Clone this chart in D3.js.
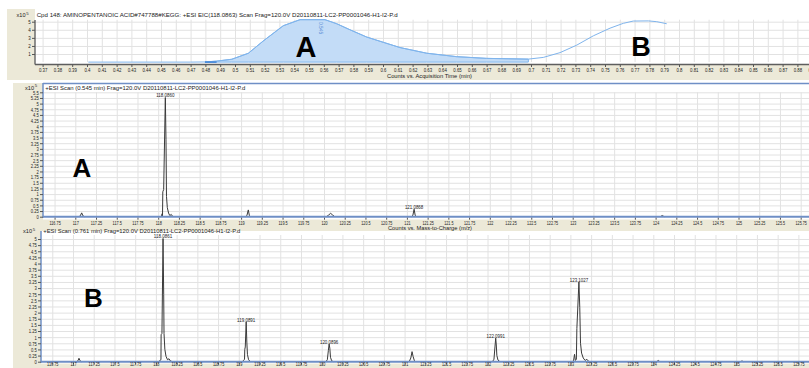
<!DOCTYPE html>
<html>
<head>
<meta charset="utf-8">
<script src="https://cdn.jsdelivr.net/npm/d3@7"></script>
<style>
  body { margin: 0; background: #fff; }
  svg { display: block; }
  text { font-family: "Liberation Sans", Arial, sans-serif; }
</style>
</head>
<body>
<svg id="chart" width="809" height="368"></svg>
<script>
// ---------- Extracted-ion chromatogram, +ESI EIC(118.0863) ----------
const timeTickLabels = ["0.37","0.38","0.39","0.4","0.41","0.42","0.43","0.44","0.45","0.46","0.47","0.48","0.49","0.5","0.51","0.52","0.53","0.54","0.55","0.56","0.57","0.58","0.59","0.6","0.61","0.62","0.63","0.64","0.65","0.66","0.67","0.68","0.69","0.7","0.71","0.72","0.73","0.74","0.75","0.76","0.77","0.78","0.79","0.8","0.81","0.82","0.83","0.84","0.85","0.86","0.87","0.88","0.89"];
const eicYTickLabels = ["1","2","3","4","5"];
const eicTime   = [0.4009, 0.4700, 0.4797, 0.4876, 0.4978, 0.5090, 0.5190, 0.5326, 0.5439, 0.5608, 0.5687, 0.5777, 0.5890, 0.6002, 0.6115, 0.6295, 0.6498, 0.6700, 0.6982, 0.7083, 0.7196, 0.7309, 0.7421, 0.7534, 0.7624, 0.7691, 0.7793, 0.7850, 0.7917];
const eicCounts = [0, 0, 0.02, 0.12, 0.35, 1.09, 2.6, 4.5, 5.25, 5.25, 4.75, 4.0, 3.1, 2.45, 1.8, 1.1, 0.67, 0.46, 0.37, 0.58, 1.17, 2.1, 3.25, 4.2, 4.8, 5.08, 5.1, 5.0, 4.75];
const integrationStart = 0.4797;
const integrationEnd = 0.6982;
const apexLabel = "0.545";

// ---------- Mass spectra (counts x10^5 vs m/z) ----------
const mzTickLabels = ["116.75","117","117.25","117.5","117.75","118","118.25","118.5","118.75","119","119.25","119.5","119.75","120","120.25","120.5","120.75","121","121.25","121.5","121.75","122","122.25","122.5","122.75","123","123.25","123.5","123.75","124","124.25","124.5","124.75","125","125.25","125.5","125.75"];
const scanAYTickLabels = ["0","0.25","0.5","0.75","1","1.25","1.5","1.75","2","2.25","2.5","2.75","3","3.25","3.5","3.75","4","4.25","4.5","4.75","5","5.25","5.5"];
const scanBYTickLabels = ["0","0.25","0.5","0.75","1","1.25","1.5","1.75","2","2.25","2.5","2.75","3","3.25","3.5","3.75","4","4.25","4.5","4.75","5"];

// Scan at 0.545 min
const scanAPeaks = [
  { label: null, mz: [117.045, 117.06, 117.077, 117.092, 117.11], counts: [0, 0.04, 0.17, 0.04, 0] },
  { label: "118.0860",
    mz:     [118.03, 118.04, 118.047, 118.052, 118.0555, 118.066, 118.0860, 118.094, 118.100, 118.11, 118.125, 118.14, 118.158, 118.172, 118.19],
    counts: [0, 0.02, 0.13, 0.04, 1.1, 1.2, 5.27, 3.4, 0.9, 0.4, 0.16, 0.05, 0.1, 0.02, 0] },
  { label: null, mz: [119.055, 119.07, 119.087, 119.1, 119.115], counts: [0, 0.05, 0.30, 0.05, 0] },
  { label: null, mz: [120.03, 120.055, 120.08, 120.105, 120.13], counts: [0, 0.07, 0.15, 0.07, 0] },
  { label: "121.0868", mz: [121.055, 121.072, 121.0868, 121.1, 121.118], counts: [0, 0.06, 0.33, 0.06, 0] },
  { label: null, mz: [124.055, 124.08, 124.105], counts: [0, 0.05, 0] }
];

// Scan at 0.761 min
const scanBPeaks = [
  { label: null, mz: [117.045, 117.06, 117.072, 117.085, 117.1], counts: [0, 0.04, 0.14, 0.04, 0] },
  { label: "118.0861",
    mz:     [118.03, 118.045, 118.061, 118.063, 118.073, 118.0861, 118.094, 118.098, 118.108, 118.122, 118.14, 118.158, 118.175, 118.2],
    counts: [0, 0.04, 0.08, 1.1, 1.15, 5.02, 2.75, 1.15, 0.5, 0.22, 0.08, 0.12, 0.03, 0] },
  { label: "119.0891",
    mz:     [119.04, 119.055, 119.069, 119.072, 119.078, 119.0891, 119.097, 119.104, 119.118, 119.14],
    counts: [0, 0.04, 0.1, 0.5, 0.6, 1.62, 0.8, 0.3, 0.08, 0] },
  { label: "120.0896",
    mz:     [120.05, 120.068, 120.08, 120.0896, 120.098, 120.106, 120.12, 120.14],
    counts: [0, 0.08, 0.45, 0.72, 0.55, 0.18, 0.04, 0] },
  { label: null, mz: [121.055, 121.075, 121.09, 121.102, 121.118, 121.135], counts: [0, 0.15, 0.41, 0.22, 0.04, 0] },
  { label: "122.0991",
    mz:     [122.06, 122.078, 122.09, 122.0991, 122.106, 122.113, 122.126, 122.15],
    counts: [0, 0.1, 0.6, 0.96, 0.68, 0.25, 0.07, 0] },
  { label: "123.1027",
    mz:     [123.02, 123.038, 123.05, 123.06, 123.072, 123.078, 123.1027, 123.113, 123.122, 123.135, 123.155, 123.178, 123.198, 123.218, 123.24],
    counts: [0, 0.04, 0.3, 0.05, 0.1, 1.35, 3.25, 2.2, 0.75, 0.35, 0.15, 0.05, 0.1, 0.02, 0] },
  { label: null, mz: [124.04, 124.06, 124.08], counts: [0, 0.05, 0] },
  { label: null, mz: [125.05, 125.07, 125.09], counts: [0, 0.03, 0] }
];

const eicTitle = "Cpd 148: AMINOPENTANOIC ACID#747788#KEGG: +ESI EIC(118.0863) Scan Frag=120.0V D20110811-LC2-PP0001046-H1-I2-P.d";
const scanATitle = "+ESI Scan (0.545 min) Frag=120.0V D20110811-LC2-PP0001046-H1-I2-P.d";
const scanBTitle = "+ESI Scan (0.761 min) Frag=120.0V D20110811-LC2-PP0001046-H1-I2-P.d";
const timeAxisTitle = "Counts vs. Acquisition Time (min)";
const mzAxisTitle = "Counts vs. Mass-to-Charge (m/z)";

// ---------- drawing ----------
const W = 809, H = 368;
const BEIGE = "#ece9d8", GRID = "#e2e2e2", PANE_BLUE = "#6f8fc6", TRACE = "#3a3a3a";
const EIC_FILL = "#c3dcf7", EIC_LINE = "#7fb4ec";
const svg = d3.select("#chart");

// approximate rendered width of a tiny numeric label
function labelWidth(s, digit, dot) {
  let w = 0;
  for (const ch of s) w += (ch === "." ? dot : digit);
  return w;
}
function styleTicks(g, fs, digit, dot) {
  g.attr("font-size", null).attr("font-family", null);
  g.select(".domain").remove();
  g.selectAll(".tick line").attr("stroke", "#555");
  g.selectAll(".tick text")
    .attr("font-size", fs)
    .attr("fill", "#222")
    .each(function () {
      this.setAttribute("textLength", labelWidth(this.textContent, digit, dot));
      this.setAttribute("lengthAdjust", "spacingAndGlyphs");
    });
}
function styleGrid(g) {
  g.select(".domain").remove();
  g.selectAll("text").remove();
  g.selectAll("line").attr("stroke", GRID);
}
function smallText(x, y, s, len, anchor) {
  const t = svg.append("text").attr("x", x).attr("y", y).attr("font-size", 6)
    .attr("fill", "#222").attr("text-anchor", anchor || "start").text(s);
  if (len) t.attr("textLength", len).attr("lengthAdjust", "spacingAndGlyphs");
  return t;
}
function exponentLabel(x, y) {
  const t = svg.append("text").attr("x", x).attr("y", y).attr("font-size", 5.6).attr("fill", "#222");
  t.append("tspan").text("x10");
  t.append("tspan").attr("dy", -2.2).attr("font-size", 4.3).attr("dx", 0.8).text("5");
}
function bigLetter(x, y, s, fs) {
  svg.append("text").attr("x", x).attr("y", y).attr("text-anchor", "middle")
    .attr("font-size", fs).attr("font-weight", "bold").attr("fill", "#000").text(s);
}

// ===== Panel 1: chromatogram =====
const p1 = { left: 35, top: 9, axisY: 64.5 };
svg.append("rect").attr("x", 7).attr("y", 9).attr("width", W - 7).attr("height", 71).attr("fill", BEIGE);
svg.append("rect").attr("x", p1.left).attr("y", p1.top).attr("width", W - p1.left).attr("height", p1.axisY - p1.top).attr("fill", "#fff");

const xT = d3.scaleLinear().domain([0.37, 0.80]).range([42.6, 679]);
const yT = d3.scaleLinear().domain([0, 5]).range([62.1, 21.7]);
const timeTicks = timeTickLabels.map(Number);

svg.append("g").attr("transform", `translate(0,${yT(0)})`)
  .call(d3.axisBottom(xT).tickValues(timeTicks).tickSize(-(yT(0) - yT(5.25))).tickFormat(""))
  .call(styleGrid);
svg.append("g").attr("transform", `translate(${p1.left},0)`)
  .call(d3.axisLeft(yT).tickValues(eicYTickLabels.map(Number)).tickSize(-(W - p1.left)).tickFormat(""))
  .call(styleGrid);

const eicPts = eicTime.map((t, i) => [t, eicCounts[i]]);
const filled = eicPts.filter(p => p[0] >= integrationStart && p[0] <= integrationEnd);
svg.append("path").datum(filled)
  .attr("d", d3.area().x(d => xT(d[0])).y0(yT(0)).y1(d => yT(d[1])))
  .attr("fill", EIC_FILL).attr("stroke", EIC_LINE).attr("stroke-width", 1);
svg.append("path").datum(eicPts)
  .attr("d", d3.line().x(d => xT(d[0])).y(d => yT(d[1])))
  .attr("fill", "none").attr("stroke", EIC_LINE).attr("stroke-width", 1);
svg.append("line").attr("x1", xT(integrationStart)).attr("x2", xT(0.4876))
  .attr("y1", yT(0)).attr("y2", yT(0)).attr("stroke", "#3f83d6").attr("stroke-width", 1.5);
svg.append("text")
  .attr("transform", `translate(${xT(0.545) + 17},${yT(4.95)}) rotate(90)`)
  .attr("font-size", 4.8).attr("fill", "#5b8fd6").text(apexLabel);

svg.append("line").attr("x1", p1.left).attr("x2", p1.left).attr("y1", 20).attr("y2", p1.axisY)
  .attr("stroke", "#6e6e6e").attr("stroke-width", 1.5);
svg.append("line").attr("x1", p1.left).attr("x2", W).attr("y1", p1.axisY).attr("y2", p1.axisY)
  .attr("stroke", "#5e5e5e").attr("stroke-width", 1.6);
svg.append("g").attr("transform", `translate(0,${p1.axisY})`)
  .call(d3.axisBottom(xT).tickValues(timeTicks).tickSize(2.5).tickPadding(1.2)
    .tickFormat((d, i) => timeTickLabels[i]))
  .call(g => styleTicks(g, 6, 2.4, 1.2));
svg.append("g").attr("transform", `translate(${p1.left},0)`)
  .call(d3.axisLeft(yT).tickValues(eicYTickLabels.map(Number)).tickSize(3).tickPadding(1.2)
    .tickFormat((d, i) => eicYTickLabels[i]))
  .call(g => styleTicks(g, 6, 2.5, 1.2));

exponentLabel(16.5, 17);
smallText(36.7, 17.2, eicTitle, 361);
smallText(387, 77.5, timeAxisTitle, 85);
bigLetter(306, 57, "A", 29);
bigLetter(641, 55.5, "B", 27);

// ===== Panels 2 and 3: spectra =====
function spectrumPanel(cfg) {
  const x = d3.scaleLinear().domain([120, 121]).range([cfg.x120, cfg.x120 + 82.9]);
  const y = d3.scaleLinear().domain([0, cfg.yMax]).range([cfg.y0, cfg.yTop]);
  const yTicks = cfg.yLabels.map(Number);
  const mzTicks = mzTickLabels.map(Number);

  svg.append("rect").attr("x", 13).attr("y", cfg.bgTop).attr("width", W - 13).attr("height", cfg.bgBottom - cfg.bgTop).attr("fill", BEIGE);
  svg.append("rect").attr("x", cfg.axisX).attr("y", cfg.plotTop).attr("width", W - cfg.axisX).attr("height", cfg.plotBottom - cfg.plotTop).attr("fill", "#fff");

  svg.append("g").attr("transform", `translate(0,${y(0)})`)
    .call(d3.axisBottom(x).tickValues(mzTicks).tickSize(-(y(0) - y(cfg.yMax)) - cfg.gridExtra).tickFormat(""))
    .call(styleGrid);
  svg.append("g").attr("transform", `translate(${cfg.axisX},0)`)
    .call(d3.axisLeft(y).tickValues(yTicks.slice(1)).tickSize(-(W - cfg.axisX)).tickFormat(""))
    .call(styleGrid);

  const line = d3.line().x(d => x(d[0])).y(d => y(d[1]));
  cfg.peaks.forEach(pk => {
    const pts = pk.mz.map((m, i) => [m, pk.counts[i]]);
    svg.append("path").datum(pts).attr("d", line)
      .attr("fill", "none").attr("stroke", TRACE).attr("stroke-width", 1).attr("stroke-linejoin", "round");
    if (pk.label) {
      const top = d3.greatest(pts, p => p[1]);
      svg.append("text").attr("x", x(top[0])).attr("y", y(top[1]) - 0.3)
        .attr("text-anchor", "middle").attr("font-size", 5.8).attr("fill", "#222")
        .attr("textLength", labelWidth(pk.label, 2.45, 1.2)).attr("lengthAdjust", "spacingAndGlyphs")
        .text(pk.label);
    }
  });

  // pane frame: blue baseline, left axis and optional top edge
  svg.append("line").attr("x1", cfg.axisX).attr("x2", W).attr("y1", y(0)).attr("y2", y(0))
    .attr("stroke", PANE_BLUE).attr("stroke-width", 2);
  svg.append("line").attr("x1", cfg.axisX).attr("x2", cfg.axisX).attr("y1", cfg.plotTop).attr("y2", y(0) + 1)
    .attr("stroke", PANE_BLUE).attr("stroke-width", 1.5);
  if (cfg.topEdge) {
    svg.append("line").attr("x1", cfg.axisX).attr("x2", W).attr("y1", cfg.plotTop + 0.5).attr("y2", cfg.plotTop + 0.5)
      .attr("stroke", PANE_BLUE).attr("stroke-width", 1.5);
  }

  svg.append("g").attr("transform", `translate(0,${y(0) + 1})`)
    .call(d3.axisBottom(x).tickValues(mzTicks).tickSize(2).tickPadding(1)
      .tickFormat((d, i) => mzTickLabels[i]))
    .call(g => styleTicks(g, 6, 2.05, 1.1))
    .call(g => g.selectAll(".tick text").attr("dy", null).attr("y", cfg.tickLabelY));
  svg.append("g").attr("transform", `translate(${cfg.axisX},0)`)
    .call(d3.axisLeft(y).tickValues(yTicks).tickSize(3).tickPadding(1.3)
      .tickFormat((d, i) => cfg.yLabels[i]))
    .call(g => styleTicks(g, 5.8, 2.3, 1.1));

  exponentLabel(cfg.axisX - 18, cfg.titleY);
  smallText(cfg.axisX + 2.3, cfg.titleY + 0.5, cfg.title, cfg.titleLen);
  if (cfg.axisTitle) smallText(388, cfg.axisTitleY, cfg.axisTitle, 84);
  bigLetter(cfg.letterX, cfg.letterY, cfg.letter, 26);
}

spectrumPanel({
  x120: 324, axisX: 43, y0: 216.7, yTop: 92.3, yMax: 5.5, yLabels: scanAYTickLabels,
  bgTop: 83, bgBottom: 231, plotTop: 83, plotBottom: 219.5, gridExtra: 0, tickLabelY: 7.1,
  topEdge: true, peaks: scanAPeaks, title: scanATitle, titleLen: 200, titleY: 89.6,
  axisTitle: mzAxisTitle, axisTitleY: 229.6, letter: "A", letterX: 82, letterY: 177
});
spectrumPanel({
  x120: 321.7, axisX: 41, y0: 361.7, yTop: 239, yMax: 5, yLabels: scanBYTickLabels,
  bgTop: 231, bgBottom: 368, plotTop: 231, plotBottom: 363.5, gridExtra: 4, tickLabelY: 3.6,
  topEdge: false, peaks: scanBPeaks, title: scanBTitle, titleLen: 197, titleY: 232.8,
  axisTitle: null, letter: "B", letterX: 93.5, letterY: 307
});
</script>
</body>
</html>
